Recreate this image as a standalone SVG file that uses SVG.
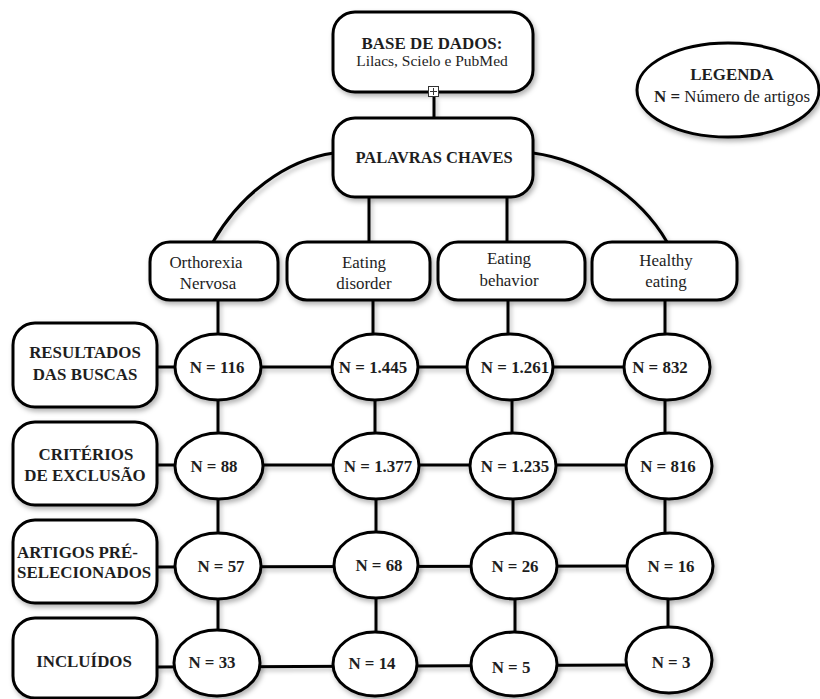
<svg xmlns="http://www.w3.org/2000/svg" width="820" height="699" viewBox="0 0 820 699">
<defs>
<filter id="sh" x="-20%" y="-20%" width="140%" height="150%">
<feDropShadow dx="2" dy="3" stdDeviation="2.5" flood-color="#000" flood-opacity="0.3"/>
</filter>
<filter id="shl" filterUnits="userSpaceOnUse" x="0" y="0" width="820" height="699">
<feDropShadow dx="2" dy="3" stdDeviation="2" flood-color="#000" flood-opacity="0.25"/>
</filter>
</defs>
<style>
.box{fill:#fff;stroke:#000;stroke-width:3;filter:url(#sh)}
.ell{fill:#fff;stroke:#000;stroke-width:3;filter:url(#sh)}
.ln{fill:none;stroke:#000;stroke-width:3}
.t{fill:#1e1e1e;font-family:"Liberation Serif",serif;font-size:16.9px}
.b{font-weight:bold}
.c{text-anchor:middle}
</style>
<rect width="820" height="699" fill="#fff"/>
<g id="connectors" filter="url(#shl)">
<path class="ln" d="M213,242 C240,195 285,160 334,153"/>
<path class="ln" d="M667,242 C640,195 585,160 533,153"/>
<line class="ln" x1="434" y1="96" x2="434" y2="118"/>
<line class="ln" x1="369" y1="197" x2="369" y2="242"/>
<line class="ln" x1="507" y1="197" x2="507" y2="242"/>
<line class="ln" x1="218" y1="300" x2="218" y2="334"/>
<line class="ln" x1="218" y1="400" x2="218" y2="433"/>
<line class="ln" x1="218" y1="499" x2="218" y2="533"/>
<line class="ln" x1="218" y1="599" x2="218" y2="630"/>
<line class="ln" x1="373" y1="300" x2="373" y2="334"/>
<line class="ln" x1="375" y1="400" x2="375" y2="433"/>
<line class="ln" x1="376" y1="499" x2="376" y2="533"/>
<line class="ln" x1="376" y1="599" x2="376" y2="631"/>
<line class="ln" x1="508" y1="300" x2="508" y2="334"/>
<line class="ln" x1="512" y1="400" x2="512" y2="433"/>
<line class="ln" x1="513" y1="499" x2="513" y2="533"/>
<line class="ln" x1="515" y1="599" x2="515" y2="631"/>
<line class="ln" x1="665" y1="300" x2="665" y2="334"/>
<line class="ln" x1="665" y1="400" x2="665" y2="433"/>
<line class="ln" x1="665" y1="499" x2="665" y2="533"/>
<line class="ln" x1="668" y1="599" x2="668" y2="627"/>
<line class="ln" x1="157" y1="367" x2="624" y2="367"/>
<line class="ln" x1="157" y1="465" x2="626" y2="465"/>
<line class="ln" x1="157" y1="567" x2="628" y2="566"/>
<line class="ln" x1="157" y1="667" x2="628" y2="665"/>
</g>
<g id="base">
<rect class="box" x="333" y="12" width="200" height="80" rx="22"/>
<text class="t b c" x="432" y="49">BASE DE DADOS:</text>
<text class="t c" x="432" y="66" style="font-size:15.5px">Lilacs, Scielo e PubMed</text>
</g>
<g id="marker">
<rect x="428.5" y="86.5" width="10" height="10" fill="#fff" stroke="#333" stroke-width="1"/>
<line x1="433.5" y1="88" x2="433.5" y2="95" stroke="#333" stroke-width="1"/>
<line x1="430" y1="91.5" x2="437" y2="91.5" stroke="#333" stroke-width="1"/>
</g>
<g id="palavras">
<rect class="box" x="333" y="118" width="200" height="79" rx="22"/>
<text class="t b c" x="434" y="163" style="font-size:16.5px">PALAVRAS CHAVES</text>
</g>
<g id="legenda">
<ellipse class="ell" cx="728" cy="90" rx="91" ry="47"/>
<text class="t b c" x="732" y="80">LEGENDA</text>
<text class="t c" x="732" y="102"><tspan class="b">N =</tspan> Número de artigos</text>
</g>
<g id="orthorexia">
<rect class="box" x="150" y="242" width="128" height="58" rx="20"/>
<text class="t c" x="206" y="268">Orthorexia</text>
<text class="t c" x="208" y="289">Nervosa</text>
</g>
<g id="eating-disorder">
<rect class="box" x="287" y="242" width="143" height="58" rx="20"/>
<text class="t c" x="364" y="268">Eating</text>
<text class="t c" x="364" y="289">disorder</text>
</g>
<g id="eating-behavior">
<rect class="box" x="438" y="242" width="147" height="58" rx="20"/>
<text class="t c" x="509" y="264">Eating</text>
<text class="t c" x="509" y="286">behavior</text>
</g>
<g id="healthy-eating">
<rect class="box" x="592" y="242" width="145" height="58" rx="20"/>
<text class="t c" x="666" y="266">Healthy</text>
<text class="t c" x="666" y="287">eating</text>
</g>
<g id="resultados">
<rect class="box" x="13" y="323" width="144" height="84" rx="22"/>
<text class="t b c" x="85" y="358">RESULTADOS</text>
<text class="t b c" x="85" y="380">DAS BUSCAS</text>
</g>
<g id="criterios">
<rect class="box" x="13" y="422" width="144" height="83" rx="22"/>
<text class="t b c" x="86" y="460">CRITÉRIOS</text>
<text class="t b c" x="85" y="481">DE EXCLUSÃO</text>
</g>
<g id="artigos">
<rect class="box" x="13" y="520" width="144" height="83" rx="22"/>
<text class="t b" x="17" y="558">ARTIGOS PRÉ-</text>
<text class="t b" x="17" y="578">SELECIONADOS</text>
</g>
<g id="incluidos">
<rect class="box" x="13" y="618" width="144" height="80" rx="22"/>
<text class="t b c" x="84" y="667">INCLUÍDOS</text>
</g>
<g id="n116"><ellipse class="ell" cx="218" cy="367" rx="43" ry="33"/><text class="t b c" x="217" y="373">N = 116</text></g>
<g id="n1445"><ellipse class="ell" cx="375" cy="367" rx="43" ry="33"/><text class="t b c" x="373" y="373">N = 1.445</text></g>
<g id="n1261"><ellipse class="ell" cx="510" cy="367" rx="43" ry="33"/><text class="t b c" x="515" y="373">N = 1.261</text></g>
<g id="n832"><ellipse class="ell" cx="667" cy="367" rx="43" ry="33"/><text class="t b c" x="660" y="373">N = 832</text></g>
<g id="n88"><ellipse class="ell" cx="219" cy="466" rx="44" ry="33"/><text class="t b c" x="214" y="472">N = 88</text></g>
<g id="n1377"><ellipse class="ell" cx="376" cy="466" rx="43" ry="33"/><text class="t b c" x="378" y="472">N = 1.377</text></g>
<g id="n1235"><ellipse class="ell" cx="513" cy="466" rx="43" ry="33"/><text class="t b c" x="515" y="472">N = 1.235</text></g>
<g id="n816"><ellipse class="ell" cx="669" cy="466" rx="43" ry="33"/><text class="t b c" x="668" y="472">N = 816</text></g>
<g id="n57"><ellipse class="ell" cx="218" cy="566" rx="43" ry="33"/><text class="t b c" x="221" y="572">N = 57</text></g>
<g id="n68"><ellipse class="ell" cx="376" cy="565" rx="42" ry="33"/><text class="t b c" x="379" y="571">N = 68</text></g>
<g id="n26"><ellipse class="ell" cx="514" cy="566" rx="43" ry="33"/><text class="t b c" x="515" y="572">N = 26</text></g>
<g id="n16"><ellipse class="ell" cx="670" cy="566" rx="43" ry="33"/><text class="t b c" x="671" y="572">N = 16</text></g>
<g id="n33"><ellipse class="ell" cx="217" cy="663" rx="43" ry="33"/><text class="t b c" x="212" y="668">N = 33</text></g>
<g id="n14"><ellipse class="ell" cx="375" cy="664" rx="42" ry="32"/><text class="t b c" x="372" y="669">N = 14</text></g>
<g id="n5"><ellipse class="ell" cx="514" cy="664" rx="43" ry="32"/><text class="t b c" x="511" y="673">N = 5</text></g>
<g id="n3"><ellipse class="ell" cx="669" cy="660" rx="43" ry="33"/><text class="t b c" x="671" y="668">N = 3</text></g>
</svg>
